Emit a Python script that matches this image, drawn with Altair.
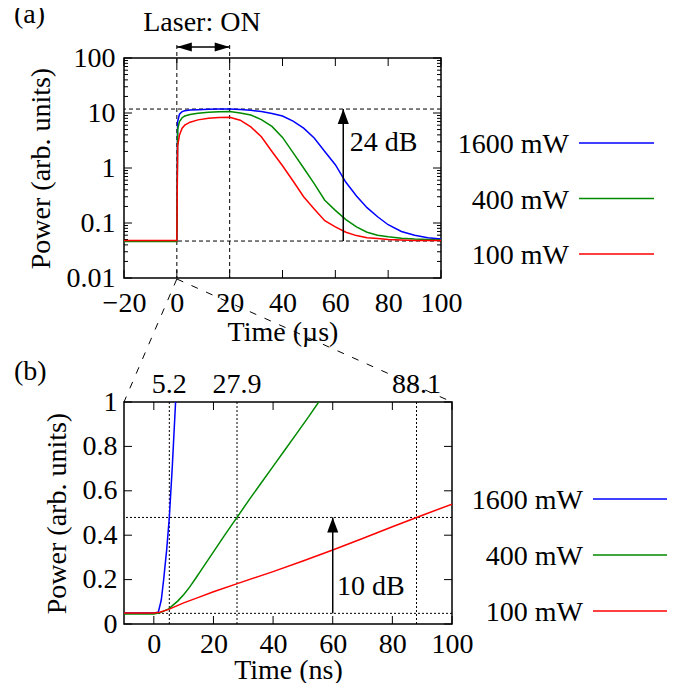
import altair as alt
import pandas as pd

FONT = "Liberation Serif"
FS = 28

SERIES = ["1600 mW", "400 mW", "100 mW"]
COLORS = ["#0000ff", "#008a00", "#ff0000"]

# ---------------- panel (a): time in microseconds, log power ----------------
T_A = [-20, 0, 0.3, 1, 2, 3, 5, 8, 12, 16, 20, 24, 28, 32, 36, 40, 44, 48, 52,
       56, 60, 64, 68, 72, 76, 80, 85, 90, 95, 100]
P_A_1600 = [0.047, 0.047, 7.0, 9.5, 10.6, 11.0, 11.3, 11.5, 11.7, 11.8, 11.8,
            11.6, 11.2, 10.6, 9.8, 8.8, 7.1, 5.3, 3.5, 2.0, 1.15, 0.55, 0.31,
            0.19, 0.13, 0.093, 0.07, 0.06, 0.054, 0.051]
P_A_400 = [0.046, 0.046, 5.0, 7.0, 8.2, 8.8, 9.4, 9.9, 10.3, 10.5, 10.6, 10.0,
           9.2, 7.6, 5.7, 3.6, 1.9, 1.0, 0.52, 0.26, 0.17, 0.115, 0.085, 0.068,
           0.06, 0.056, 0.053, 0.051, 0.05, 0.049]
P_A_100 = [0.048, 0.048, 2.5, 4.0, 5.3, 6.0, 6.8, 7.5, 8.0, 8.3, 8.4, 7.4, 5.6,
           3.7, 2.0, 1.1, 0.58, 0.3, 0.18, 0.11, 0.085, 0.068, 0.059, 0.054,
           0.052, 0.05, 0.049, 0.048, 0.048, 0.048]

X_TICKS_A = [-20, 0, 20, 40, 60, 80, 100]
Y_TICKS_A = [0.01, 0.1, 1, 10, 100]
LEVELS_A = [11.8, 0.047]          # dashed reference levels (24 dB apart)
ON_TIMES = [0, 20]                # laser on / off
ARROW_A_T = 63
LABEL_A_24DB = (65.5, 2.0)

# ---------------- panel (b): time in nanoseconds, linear power ----------------
T_B_1600 = [-10, 0, 1.5, 2.5, 3.3, 4.3, 5.2, 6.2, 7.3]
P_B_1600 = [0.05, 0.05, 0.053, 0.108, 0.2, 0.333, 0.48, 0.71, 1.0]
T_B_400 = [-10, 0, 2, 5, 8, 10, 12, 14, 16, 20, 24, 27.9, 32, 36, 40, 44, 48, 52, 55.3]
P_B_400 = [0.045, 0.045, 0.05, 0.068, 0.103, 0.132, 0.166, 0.205, 0.245, 0.325,
           0.405, 0.48, 0.56, 0.635, 0.71, 0.785, 0.86, 0.935, 1.0]
T_B_100 = [-10, 0, 2, 5, 10, 15, 20, 28, 40, 50, 60, 70, 80, 88.1, 100]
P_B_100 = [0.05, 0.05, 0.053, 0.066, 0.095, 0.12, 0.145, 0.182, 0.236, 0.284,
           0.333, 0.385, 0.438, 0.48, 0.54]

X_TICKS_B = [0, 20, 40, 60, 80, 100]
Y_TICKS_B = [0, 0.2, 0.4, 0.6, 0.8, 1]
LEVELS_B = [0.48, 0.048]          # dotted reference levels (10 dB apart)
RISE_TIMES = [5.2, 27.9, 88.1]
RISE_LABELS = ["5.2", "27.9", "88.1"]
ARROW_B_T = 60
LABEL_B_10DB = (61.4, 0.131)

# ---------------- sizes ----------------
W_A, H_A = 317, 220
W_B, H_B = 328, 222
GAP = 124
TICK = 8
MINOR = 4

color_scale = alt.Scale(domain=SERIES, range=COLORS)
HEAD_UP = "M0,0L0.37,1L-0.37,1Z"
HEAD_LEFT = "M0,0L1,-0.3L1,0.3Z"
HEAD_RIGHT = "M0,0L-1,-0.3L-1,0.3Z"


def ax_common(**kw):
    return alt.Axis(ticks=False, tickSize=0, domain=False, grid=False,
                    labelOverlap=False, labelFlush=False,
                    labelFont=FONT, titleFont=FONT, labelFontSize=FS, titleFontSize=FS,
                    titleFontWeight="normal", labelColor="black", titleColor="black",
                    **kw)


# ---------- panel (a) encodings ----------
def xa(field="t"):
    return alt.X(f"{field}:Q", scale=alt.Scale(domain=[-20, 100], nice=False, zero=False),
                 axis=ax_common(values=X_TICKS_A, title="Time (µs)", labelPadding=11,
                                titlePadding=1))


def ya(field="p"):
    return alt.Y(f"{field}:Q", scale=alt.Scale(type="log", domain=[0.01, 100], nice=False),
                 axis=ax_common(values=Y_TICKS_A, format="~g", title="Power (arb. units)",
                                labelPadding=9, titlePadding=11))


rows = []
for s, arr in zip(SERIES, [P_A_1600, P_A_400, P_A_100]):
    for t, p in zip(T_A, arr):
        rows.append({"t": t, "p": p, "s": s})
curves_a_df = pd.DataFrame(rows)

curves_a = alt.Chart(curves_a_df).mark_line(strokeWidth=1.5).encode(
    x=xa(), y=ya(),
    color=alt.Color("s:N", scale=color_scale, legend=None),
    order=alt.Order("s:N", sort="ascending"),
)

dash_a = [4, 3]
hlev_a = alt.Chart(pd.DataFrame({"p": LEVELS_A})).mark_rule(
    color="black", strokeWidth=1, strokeDash=dash_a).encode(y=ya())
von_a = alt.Chart(pd.DataFrame({"t": ON_TIMES})).mark_rule(
    color="black", strokeWidth=1, strokeDash=dash_a).encode(
    x=xa(), y=alt.value(-13), y2=alt.value(H_A))

xt_a = pd.DataFrame({"t": X_TICKS_A})
xticks_a = alt.layer(
    alt.Chart(xt_a).mark_rule(color="black", strokeWidth=1).encode(
        x=xa(), y=alt.value(H_A), y2=alt.value(H_A - TICK)),
    alt.Chart(xt_a).mark_rule(color="black", strokeWidth=1).encode(
        x=xa(), y=alt.value(0), y2=alt.value(TICK)),
)
yt_a = pd.DataFrame({"p": Y_TICKS_A})
minor_vals = [k * 10.0 ** d for d in range(-2, 2) for k in range(2, 10)]
ym_a = pd.DataFrame({"p": minor_vals})
yticks_a = alt.layer(
    alt.Chart(yt_a).mark_rule(color="black", strokeWidth=1).encode(
        y=ya(), x=alt.value(0), x2=alt.value(TICK)),
    alt.Chart(yt_a).mark_rule(color="black", strokeWidth=1).encode(
        y=ya(), x=alt.value(W_A - TICK), x2=alt.value(W_A)),
    alt.Chart(ym_a).mark_rule(color="black", strokeWidth=1).encode(
        y=ya(), x=alt.value(0), x2=alt.value(MINOR)),
    alt.Chart(ym_a).mark_rule(color="black", strokeWidth=1).encode(
        y=ya(), x=alt.value(W_A - MINOR), x2=alt.value(W_A)),
)

# laser-on double arrow
laser_df = pd.DataFrame({"t": [ON_TIMES[0]], "t2": [ON_TIMES[1]]})
laser_shaft = alt.Chart(laser_df).mark_rule(color="black", strokeWidth=1.5).encode(
    x=xa(), x2="t2:Q", y=alt.value(-11))
laser_l = alt.Chart(pd.DataFrame({"t": [ON_TIMES[0]]})).mark_point(
    shape=HEAD_LEFT, size=900, filled=True, color="black", opacity=1, strokeWidth=0).encode(
    x=xa(), y=alt.value(-11))
laser_r = alt.Chart(pd.DataFrame({"t": [ON_TIMES[1]]})).mark_point(
    shape=HEAD_RIGHT, size=900, filled=True, color="black", opacity=1, strokeWidth=0).encode(
    x=xa(), y=alt.value(-11))
laser_txt = alt.Chart(pd.DataFrame({"t": [9.5], "label": ["Laser: ON"]})).mark_text(
    fontSize=FS, align="center", baseline="alphabetic", color="black").encode(
    x=xa(), y=alt.value(-27), text="label:N")

# 24 dB arrow
arr_a_df = pd.DataFrame({"t": [ARROW_A_T], "p": [LEVELS_A[1]], "p2": [LEVELS_A[0]]})
arr_a = alt.Chart(arr_a_df).mark_rule(color="black", strokeWidth=1.5).encode(
    x=xa(), y=ya(), y2="p2:Q")
arr_a_head = alt.Chart(pd.DataFrame({"t": [ARROW_A_T], "p": [LEVELS_A[0]]})).mark_point(
    shape=HEAD_UP, size=900, filled=True, color="black", opacity=1, strokeWidth=0).encode(
    x=xa(), y=ya())
txt_24 = alt.Chart(pd.DataFrame({"t": [LABEL_A_24DB[0]], "p": [LABEL_A_24DB[1]],
                                 "label": ["24 dB"]})).mark_text(
    fontSize=FS, align="left", baseline="alphabetic", color="black").encode(
    x=xa(), y=ya(), text="label:N")

tag_a = alt.Chart(pd.DataFrame({"label": ["(a)"]})).mark_text(
    fontSize=FS, align="left", baseline="alphabetic", color="black").encode(
    x=alt.value(-110), y=alt.value(-35), text="label:N")

# zoom connectors from t = 0 down to the corners of panel (b)
conn_df = pd.DataFrame({"t": [0]})
conn_l = alt.Chart(conn_df).mark_rule(color="black", strokeWidth=1, strokeDash=[7, 9]).encode(
    x=xa(), y=alt.value(H_A + 1), x2=alt.value(0), y2=alt.value(H_A + GAP))
conn_r = alt.Chart(conn_df).mark_rule(color="black", strokeWidth=1, strokeDash=[7, 9]).encode(
    x=xa(), y=alt.value(H_A + 1), x2=alt.value(W_B), y2=alt.value(H_A + GAP))

panel_a = alt.layer(
    conn_l, conn_r, hlev_a, von_a, xticks_a, yticks_a, curves_a,
    laser_shaft, laser_l, laser_r, laser_txt, arr_a, arr_a_head, txt_24, tag_a,
).properties(width=W_A, height=H_A)


# ---------- panel (b) ----------
def xb(field="t"):
    return alt.X(f"{field}:Q", scale=alt.Scale(domain=[-10, 100], nice=False, zero=False),
                 axis=ax_common(values=X_TICKS_B, format="d", title="Time (ns)",
                                labelPadding=6, titlePadding=-2))


def yb(field="p"):
    return alt.Y(f"{field}:Q", scale=alt.Scale(domain=[0, 1], nice=False),
                 axis=ax_common(values=Y_TICKS_B, format="~g", title="Power (arb. units)",
                                labelPadding=7, titlePadding=11))


rows = []
for s, ts, ps in zip(SERIES, [T_B_1600, T_B_400, T_B_100], [P_B_1600, P_B_400, P_B_100]):
    for t, p in zip(ts, ps):
        rows.append({"t": t, "p": p, "s": s})
curves_b_df = pd.DataFrame(rows)
curves_b = alt.Chart(curves_b_df).mark_line(strokeWidth=1.5, clip=True).encode(
    x=xb(), y=yb(),
    color=alt.Color("s:N", scale=color_scale, legend=None),
    order=alt.Order("s:N", sort="ascending"),
)

dot_b = [2, 2]
hlev_b = alt.Chart(pd.DataFrame({"p": LEVELS_B})).mark_rule(
    color="black", strokeWidth=1, strokeDash=dot_b).encode(y=yb())
vrise_b = alt.Chart(pd.DataFrame({"t": RISE_TIMES})).mark_rule(
    color="black", strokeWidth=1, strokeDash=dot_b).encode(x=xb())
rise_txt = alt.Chart(pd.DataFrame({"t": RISE_TIMES, "label": RISE_LABELS})).mark_text(
    fontSize=FS, align="center", baseline="alphabetic", color="black").encode(
    x=xb(), y=alt.value(-9), text="label:N")

xt_b = pd.DataFrame({"t": X_TICKS_B})
yt_b = pd.DataFrame({"p": Y_TICKS_B})
ticks_b = alt.layer(
    alt.Chart(xt_b).mark_rule(color="black", strokeWidth=1).encode(
        x=xb(), y=alt.value(H_B), y2=alt.value(H_B - TICK)),
    alt.Chart(xt_b).mark_rule(color="black", strokeWidth=1).encode(
        x=xb(), y=alt.value(0), y2=alt.value(TICK)),
    alt.Chart(yt_b).mark_rule(color="black", strokeWidth=1).encode(
        y=yb(), x=alt.value(0), x2=alt.value(TICK)),
    alt.Chart(yt_b).mark_rule(color="black", strokeWidth=1).encode(
        y=yb(), x=alt.value(W_B - TICK), x2=alt.value(W_B)),
)

arr_b_df = pd.DataFrame({"t": [ARROW_B_T], "p": [LEVELS_B[1]], "p2": [LEVELS_B[0]]})
arr_b = alt.Chart(arr_b_df).mark_rule(color="black", strokeWidth=1.5).encode(
    x=xb(), y=yb(), y2="p2:Q")
arr_b_head = alt.Chart(pd.DataFrame({"t": [ARROW_B_T], "p": [LEVELS_B[0]]})).mark_point(
    shape=HEAD_UP, size=900, filled=True, color="black", opacity=1, strokeWidth=0).encode(
    x=xb(), y=yb())
txt_10 = alt.Chart(pd.DataFrame({"t": [LABEL_B_10DB[0]], "p": [LABEL_B_10DB[1]],
                                 "label": ["10 dB"]})).mark_text(
    fontSize=FS, align="left", baseline="alphabetic", color="black").encode(
    x=xb(), y=yb(), text="label:N")
tag_b = alt.Chart(pd.DataFrame({"label": ["(b)"]})).mark_text(
    fontSize=FS, align="left", baseline="alphabetic", color="black").encode(
    x=alt.value(-110), y=alt.value(-22), text="label:N")

panel_b = alt.layer(
    hlev_b, vrise_b, ticks_b, curves_b, arr_b, arr_b_head, txt_10, rise_txt, tag_b,
).properties(width=W_B, height=H_B)


# ---------- legends ----------
def legend(height, row_range, text_x, line_x1, line_x2, width):
    y = alt.Y("s:N", scale=alt.Scale(type="point", domain=SERIES, range=row_range, padding=0),
              axis=None)
    base = alt.Chart(pd.DataFrame({"s": SERIES}))
    txt = base.mark_text(fontSize=FS, align="right", baseline="middle", color="black",
                         dy=2).encode(y=y, x=alt.value(text_x), text="s:N")
    ln = base.mark_rule(strokeWidth=1.5).encode(
        y=y, x=alt.value(line_x1), x2=alt.value(line_x2),
        color=alt.Color("s:N", scale=color_scale, legend=None))
    return alt.layer(txt, ln).properties(
        width=width, height=height, view=alt.ViewBackground(strokeWidth=0, stroke="transparent"))


# legend panels start at the right edge of the wider plot column (W_B)
legend_a = legend(H_A, [85, 196], 117, 127, 202, 222)
legend_b = legend(H_B, [97, 209], 131, 141, 215, 222)

chart = alt.concat(
    panel_a, legend_a, panel_b, legend_b,
    columns=2, spacing={"row": GAP, "column": 0}, bounds="flush",
).properties(
    autosize=alt.AutoSizeParams(type="pad"),
    padding={"left": 5, "top": -8, "right": 0, "bottom": -2},
    background="white",
).configure_view(
    stroke="black", strokeWidth=1.5
).configure_axis(
    labelFont=FONT, titleFont=FONT, labelFontSize=FS, titleFontSize=FS,
    titleFontWeight="normal", labelColor="black", titleColor="black",
).configure_text(
    font=FONT
)

chart.save("out.html", embed_options={"renderer": "svg", "actions": False})
